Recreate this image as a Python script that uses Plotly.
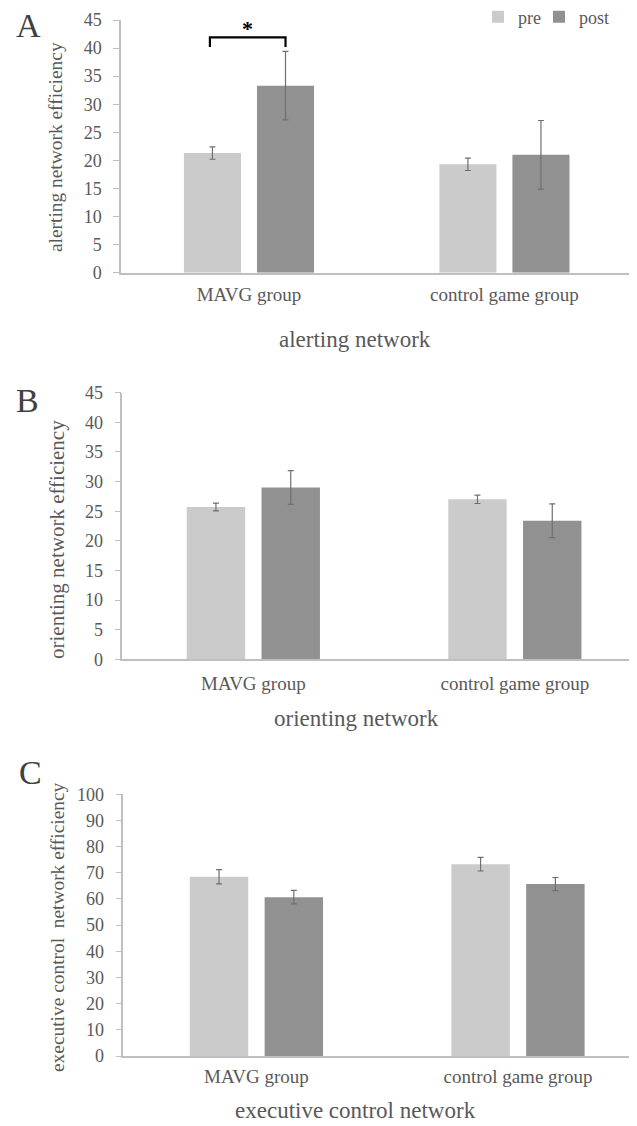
import plotly.graph_objects as go

W, H = 637, 1126          # target picture size
OFF = 8                   # page body margin of the browser
FW, FH = W - OFF, H - OFF  # figure size so it ends exactly at the picture edge

groups = ["MAVG group", "control game group"]
series = ["pre", "post"]

# Panel A: alerting network
alert_pre = [21.3, 19.3]
alert_pre_err = [1.1, 1.1]
alert_post = [33.3, 21.0]
alert_post_err = [6.1, 6.1]

# Panel B: orienting network
orient_pre = [25.7, 27.0]
orient_pre_err = [0.65, 0.7]
orient_post = [29.0, 23.4]
orient_post_err = [2.85, 2.85]

# Panel C: executive control network
exec_pre = [68.5, 73.3]
exec_pre_err = [2.7, 2.6]
exec_post = [60.7, 65.7]
exec_post_err = [2.6, 2.5]

ytitles = ["alerting network efficiency", "orienting network efficiency",
           "executive control&nbsp; network efficiency"]
xtitles = ["alerting network", "orienting network", "executive control network"]
letters = ["A", "B", "C"]

COL_PRE = "#cbcbcb"
COL_POST = "#919191"
TXT = "#595959"
AXC = "#bfbfbf"
FONT = "Liberation Serif"

def px(x):
    return (x - OFF) / FW

def py(y):
    return 1 - (y - OFF) / FH

# layout geometry (pixels in the target picture)
panels = [
    dict(xl=121.0, yt=20.0, yb=272.7, rng=[-0.501, 1.519], ymax=45, dt=5,
         data=(alert_pre, alert_pre_err, alert_post, alert_post_err),
         ytc=(56, 147, 19.4), xtc=(355, 340), let=(28.5, 26), stand=4),
    dict(xl=122.3, yt=392.7, yb=659.3, rng=[-0.501, 1.467], ymax=45, dt=5,
         data=(orient_pre, orient_pre_err, orient_post, orient_post_err),
         ytc=(57, 540, 21.0), xtc=(357, 718), let=(27.5, 400), stand=6),
    dict(xl=123.3, yt=794.3, yb=1056.0, rng=[-0.509, 1.455], ymax=100, dt=10,
         data=(exec_pre, exec_pre_err, exec_post, exec_post_err),
         ytc=(57, 927, 19.4), xtc=(356, 1110), let=(30, 772), stand=2),
]

BARGAP = 0.428
GROUPGAP = 0.219

fig = go.Figure()
annotations = []
shapes = []

for i, p in enumerate(panels):
    n = "" if i == 0 else str(i + 1)
    pre, pre_e, post, post_e = p["data"]
    fig.add_trace(go.Bar(
        x=groups, y=pre, name="pre", marker=dict(color=COL_PRE, line=dict(width=0)),
        error_y=dict(type="data", array=pre_e, color="#6f6f6f", thickness=1.2, width=3),
        xaxis="x" + n, yaxis="y" + n, legendgroup="pre", showlegend=(i == 0),
        offsetgroup="pre", legend="legend"))
    fig.add_trace(go.Bar(
        x=groups, y=post, name="post", marker=dict(color=COL_POST, line=dict(width=0)),
        error_y=dict(type="data", array=post_e, color="#6f6f6f", thickness=1.2, width=3),
        xaxis="x" + n, yaxis="y" + n, legendgroup="post", showlegend=(i == 0),
        offsetgroup="post", legend="legend2"))

    fig.layout["xaxis" + n] = dict(
        domain=[px(p["xl"]), 1], range=p["rng"], type="category", anchor="y" + n,
        showline=True, linecolor=AXC, linewidth=1.5, ticks="", showgrid=False,
        zeroline=False, tickfont=dict(family=FONT, size=19, color=TXT),
        ticklabelstandoff=p["stand"], fixedrange=True, automargin=False)
    fig.layout["yaxis" + n] = dict(
        domain=[py(p["yb"]), py(p["yt"])], range=[0, p["ymax"]], dtick=p["dt"],
        anchor="x" + n, showline=True, linecolor=AXC, linewidth=1.5, ticks="outside",
        ticklen=6, tickcolor=AXC, tickwidth=1.2, showgrid=False, zeroline=False,
        tickfont=dict(family=FONT, size=18, color=TXT), ticklabelstandoff=8,
        fixedrange=True, automargin=False)

    ytx, yty, yts = p["ytc"]
    annotations.append(dict(text=ytitles[i], x=px(ytx), y=py(yty), xref="paper", yref="paper",
                            showarrow=False, textangle=-90, xanchor="center", yanchor="middle",
                            font=dict(family=FONT, size=yts, color=TXT)))
    xtx, xty = p["xtc"]
    annotations.append(dict(text=xtitles[i], x=px(xtx), y=py(xty), xref="paper", yref="paper",
                            showarrow=False, xanchor="center", yanchor="middle",
                            font=dict(family=FONT, size=23, color=TXT)))
    lx, ly = p["let"]
    annotations.append(dict(text=letters[i], x=px(lx), y=py(ly), xref="paper", yref="paper",
                            showarrow=False, xanchor="center", yanchor="middle",
                            font=dict(family=FONT, size=34, color="#404040")))

# significance bracket in panel A between MAVG pre and post
half = (1 - BARGAP) / 4
x0 = 0 - half - 0.01
x1 = 0 + half
top = alert_post[0] + alert_post_err[0] + 2.5
leg = top - 1.7
shapes.append(dict(type="path", xref="x", yref="y",
                   path=f"M {x0},{leg} L {x0},{top} L {x1},{top} L {x1},{leg}",
                   line=dict(color="black", width=2.2)))
annotations.append(dict(text="<b>*</b>", x=(x0 + x1) / 2, y=top + 1.6, xref="x", yref="y",
                        showarrow=False, xanchor="center", yanchor="middle",
                        font=dict(family=FONT, size=22, color="black")))

legend_style = dict(orientation="h", xanchor="left", yanchor="middle",
                    font=dict(family=FONT, size=18, color=TXT), bgcolor="rgba(0,0,0,0)",
                    itemwidth=30)

fig.update_layout(
    template="none",
    width=FW, height=FH, margin=dict(l=0, r=0, t=0, b=0, pad=0, autoexpand=False),
    paper_bgcolor="white", plot_bgcolor="white",
    barmode="group", bargap=BARGAP, bargroupgap=GROUPGAP,
    showlegend=True,
    legend=dict(x=px(478), y=py(17), **legend_style),
    legend2=dict(x=px(539), y=py(17), **legend_style),
    annotations=annotations, shapes=shapes,
)

fig.write_html("out.html")
